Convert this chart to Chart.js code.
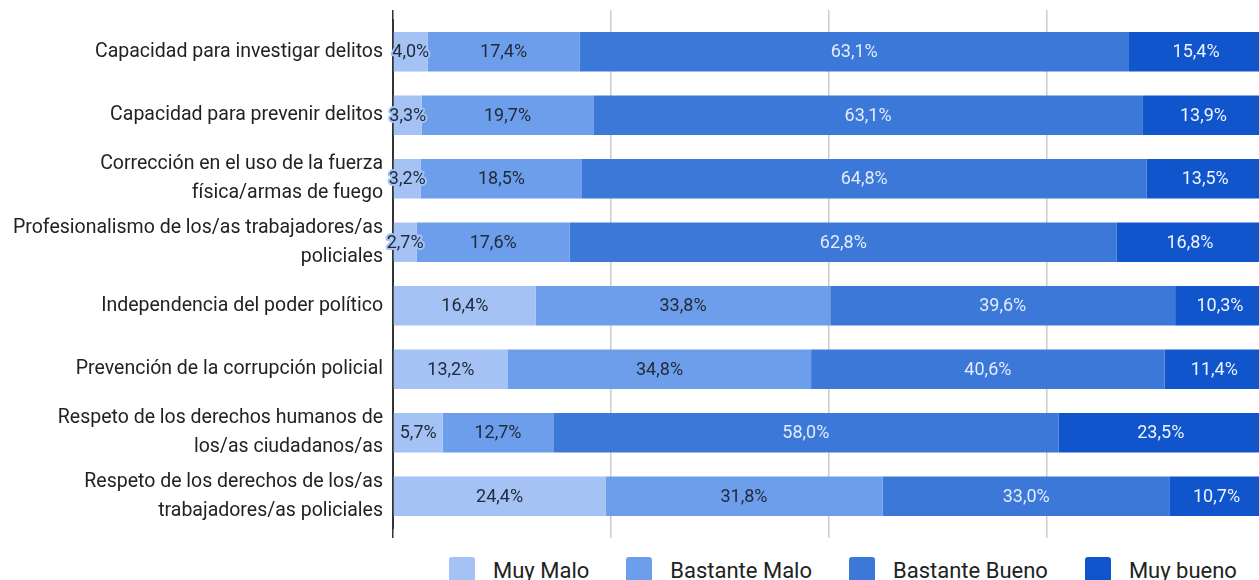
<!DOCTYPE html>
<html>
<head>
<meta charset="utf-8">
<script src="https://cdn.jsdelivr.net/npm/chart.js"></script>
<style>
  html, body { margin: 0; padding: 0; background: #fff; overflow: hidden; }
  #wrap { position: absolute; left: 0; top: 0; width: 1264px; height: 540px; }
  #legend { position: absolute; left: 449px; top: 557px; display: flex; align-items: center;
            font: 22px Roboto, sans-serif; color: #222; white-space: nowrap; }
  #legend .item { display: flex; align-items: center; margin-right: 37px; }
  #legend .box { width: 26px; height: 26px; border-radius: 3px; margin-right: 18px; }
</style>
</head>
<body>
<div id="wrap"><canvas id="myChart"></canvas></div>
<div id="legend"></div>
<script>
var categories = [
  "Capacidad para investigar delitos",
  "Capacidad para prevenir delitos",
  ["Corrección en el uso de la fuerza", "física/armas de fuego"],
  ["Profesionalismo de los/as trabajadores/as", "policiales"],
  "Independencia del poder político",
  "Prevención de la corrupción policial",
  ["Respeto de los derechos humanos de", "los/as ciudadanos/as"],
  ["Respeto de los derechos de los/as", "trabajadores/as policiales"]
];
var seriesNames = ["Muy Malo", "Bastante Malo", "Bastante Bueno", "Muy bueno"];
var muyMalo = [4.0, 3.3, 3.2, 2.7, 16.4, 13.2, 5.7, 24.4];
var bastanteMalo = [17.4, 19.7, 18.5, 17.6, 33.8, 34.8, 12.7, 31.8];
var bastanteBueno = [63.1, 63.1, 64.8, 62.8, 39.6, 40.6, 58.0, 33.0];
var muyBueno = [15.4, 13.9, 13.5, 16.8, 10.3, 11.4, 23.5, 10.7];
var xTicks = [0, 25, 50, 75, 100];

var colors = ["#a4c2f4", "#6d9eeb", "#3c78d8", "#1155cc"];
var labelColors = ["#222b3a", "#222b3a", "#e3ecfc", "#eef3fe"];
var series = [muyMalo, bastanteMalo, bastanteBueno, muyBueno];

// value labels in the middle of each bar segment
var barLabels = {
  id: 'barLabels',
  afterDatasetsDraw: function(chart) {
    var ctx = chart.ctx;
    ctx.save();
    ctx.font = '18px Roboto';
    ctx.textAlign = 'center';
    ctx.textBaseline = 'middle';
    ctx.lineJoin = 'round';
    chart.data.datasets.forEach(function(ds, i) {
      var meta = chart.getDatasetMeta(i);
      meta.data.forEach(function(bar, j) {
        var text = ds.data[j].toFixed(1).replace('.', ',') + '%';
        var x = (bar.x + bar.base) / 2;
        ctx.lineWidth = 4;
        ctx.strokeStyle = colors[i];
        ctx.strokeText(text, x, bar.y + 1);
        ctx.fillStyle = labelColors[i];
        ctx.fillText(text, x, bar.y + 1);
      });
    });
    ctx.restore();
  }
};

function gridColor(c) {
  return c.tick && c.tick.value === 0 ? '#333' : '#cccccc';
}

var ctx = document.getElementById("myChart");
var myChart = new Chart(ctx, {
  type: 'bar',
  data: {
    labels: categories,
    datasets: seriesNames.map(function(name, i) {
      return {
        label: name,
        data: series[i],
        backgroundColor: colors[i],
        borderWidth: 0,
        barPercentage: 0.62,
        categoryPercentage: 1
      };
    })
  },
  options: {
    indexAxis: 'y',
    responsive: true,
    maintainAspectRatio: false,
    animation: false,
    layout: { padding: { top: 10, bottom: 2, left: 0, right: 0 } },
    plugins: {
      legend: { display: false },
      tooltip: { enabled: false }
    },
    scales: {
      x: {
        stacked: true,
        min: xTicks[0],
        max: xTicks[xTicks.length - 1],
        afterBuildTicks: function(scale) {
          scale.ticks = xTicks.map(function(v) { return { value: v }; });
        },
        ticks: { display: false },
        border: { display: false },
        grid: { color: gridColor, lineWidth: 1.5, tickLength: 10 }
      },
      x2: {
        position: 'top',
        type: 'linear',
        min: xTicks[0],
        max: xTicks[xTicks.length - 1],
        afterBuildTicks: function(scale) {
          scale.ticks = xTicks.map(function(v) { return { value: v }; });
        },
        ticks: { display: false },
        border: { display: false },
        grid: { color: gridColor, lineWidth: 1.5, tickLength: 10, drawOnChartArea: false }
      },
      y: {
        stacked: true,
        grid: { display: false },
        border: { display: true, color: '#333', width: 2 },
        ticks: {
          color: '#222',
          padding: 2,
          font: { family: 'Roboto', size: 19.5, lineHeight: 1.5 }
        },
        afterFit: function(scale) {
          scale.width = 393;
          scale.paddingTop = 0;
          scale.paddingBottom = 0;
        }
      }
    }
  },
  plugins: [barLabels]
});

// legend built from the chart's own datasets
var legendEl = document.getElementById('legend');
myChart.data.datasets.forEach(function(ds) {
  var item = document.createElement('div');
  item.className = 'item';
  var box = document.createElement('span');
  box.className = 'box';
  box.style.background = ds.backgroundColor;
  var txt = document.createElement('span');
  txt.textContent = ds.label;
  item.appendChild(box);
  item.appendChild(txt);
  legendEl.appendChild(item);
});
</script>
</body>
</html>
